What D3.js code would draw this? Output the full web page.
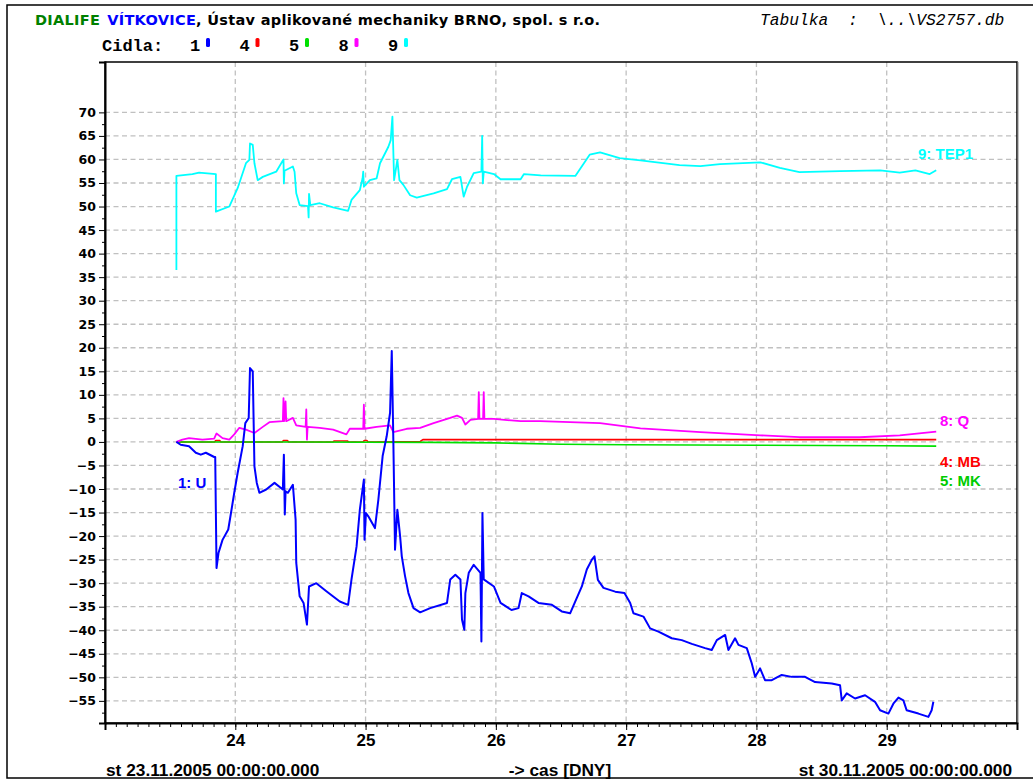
<!DOCTYPE html>
<meta charset="utf-8">
<style>
body { margin: 0; background: #fff; }
svg { display: block; }
.lbl { font-family: "DejaVu Sans", sans-serif; font-weight: bold; }
.lbn { font-family: "Liberation Sans", Arial, sans-serif; font-weight: bold; }
.mono { font-family: "Liberation Mono", "Courier New", monospace; white-space: pre; }
</style>
<svg width="1033" height="780"></svg>
<script src="https://d3js.org/d3.v7.min.js"></script>
<script>

// sensor 1 (U), blue
var s1 = [[23.548,0],[23.581,-0.6],[23.645,-0.9],[23.697,-2.3],[23.735,-2.7],[23.774,-2.3],[23.838,-3.2],[23.846,-3.2],
  [23.856,-26.8],[23.871,-23.6],[23.902,-20.8],[23.946,-18.6],[23.967,-15.1],[23.992,-10.8],[24.018,-6.6],[24.057,-0.9],
  [24.077,4.0],[24.103,5.1],[24.113,15.7],[24.134,15.0],[24.147,-5.2],[24.165,-8.7],[24.185,-10.8],[24.237,-10.1],
  [24.301,-8.7],[24.365,-10.1],[24.373,-2.7],[24.380,-15.4],[24.386,-10.5],[24.404,-10.8],[24.442,-9.1],[24.463,-16.5],
  [24.468,-25.7],[24.494,-32.8],[24.524,-34.2],[24.550,-38.8],[24.566,-30.7],[24.622,-30.0],[24.699,-31.7],[24.802,-33.9],
  [24.866,-34.6],[24.892,-29.2],[24.931,-22.2],[24.956,-14.4],[24.987,-8.0],[24.992,-20.8],[25.003,-15.1],[25.021,-15.8],
  [25.072,-18.3],[25.098,-12.3],[25.131,-3.0],[25.162,1.2],[25.188,6.2],[25.201,19.3],[25.213,0.5],[25.226,-22.9],
  [25.244,-14.4],[25.265,-20.0],[25.278,-24.3],[25.303,-28.5],[25.329,-32.1],[25.368,-35.3],[25.419,-36.2],[25.496,-35.3],
  [25.625,-34.2],[25.650,-29.2],[25.689,-28.2],[25.728,-29.2],[25.740,-37.7],[25.758,-39.9],[25.766,-32.1],[25.792,-27.8],
  [25.830,-26.1],[25.882,-27.8],[25.889,-42.4],[25.897,-15.1],[25.907,-29.2],[25.985,-30.7],[26.036,-34.2],[26.120,-35.7],
  [26.174,-35.3],[26.199,-32.1],[26.251,-32.8],[26.327,-34.2],[26.430,-34.6],[26.506,-36.0],[26.570,-36.4],[26.609,-33.9],
  [26.660,-30.7],[26.698,-27.1],[26.737,-25.0],[26.757,-24.3],[26.783,-29.3],[26.826,-31.0],[26.916,-31.8],[26.987,-32.1],
  [27.031,-34.2],[27.056,-36.4],[27.133,-37.1],[27.184,-39.6],[27.248,-40.3],[27.350,-41.7],[27.427,-42.1],[27.504,-42.9],
  [27.606,-43.8],[27.657,-44.2],[27.696,-42.1],[27.760,-41.0],[27.785,-44.2],[27.836,-41.7],[27.862,-43.1],[27.926,-43.8],
  [27.964,-47.0],[27.990,-49.9],[28.028,-48.1],[28.066,-50.6],[28.118,-50.6],[28.194,-49.5],[28.271,-49.9],[28.373,-49.9],
  [28.450,-51.0],[28.578,-51.3],[28.642,-51.7],[28.655,-54.9],[28.693,-53.4],[28.757,-54.5],[28.834,-53.8],[28.910,-55.2],
  [28.949,-57.0],[29.013,-57.7],[29.051,-55.6],[29.090,-54.3],[29.128,-54.9],[29.153,-57.0],[29.243,-57.7],[29.320,-58.4],
  [29.345,-57.0],[29.358,-55.2]];

// sensor 4 (MB), red
var s4 = [[23.548,0],[23.84,0],[23.85,0.3],[23.88,0.3],[23.89,0],[24.36,0],[24.37,0.3],[24.40,0.3],[24.41,0],
  [24.75,0],[24.76,0.2],[24.86,0.2],[24.87,0],[24.98,0],[24.99,0.3],[25.01,0.3],[25.02,0],[25.42,0.1],[25.44,0.5],
  [26.0,0.5],[27.0,0.5],[28.0,0.5],[29.0,0.5],[29.38,0.5]];

// sensor 5 (MK), green
var s5 = [[23.548,0],[24.5,0],[25.5,-0.1],[26.0,-0.2],[26.5,-0.5],[27.0,-0.6],[28.0,-0.7],[29.0,-0.8],[29.38,-0.9]];

// sensor 8 (Q), magenta
var s8 = [[23.548,0],[23.594,0.5],[23.645,0.8],[23.748,0.5],[23.838,0.7],[23.856,1.8],[23.902,0.8],[23.954,0.5],
  [23.992,1.6],[24.031,3.0],[24.082,2.6],[24.147,1.9],[24.211,3.2],[24.262,4.2],[24.365,4.4],[24.370,9.3],[24.375,4.4],
  [24.386,8.6],[24.391,4.4],[24.442,5.1],[24.468,3.5],[24.540,3.2],[24.545,6.9],[24.550,0.5],[24.555,3.2],[24.648,3.0],
  [24.751,2.6],[24.853,1.6],[24.879,2.8],[24.982,2.8],[24.987,7.9],[24.992,2.8],[25.085,3.2],[25.188,3.5],[25.213,2.1],
  [25.316,2.8],[25.419,3.0],[25.522,4.0],[25.650,5.1],[25.702,5.6],[25.740,5.1],[25.766,3.7],[25.805,4.7],[25.864,4.9],
  [25.869,10.6],[25.874,4.9],[25.902,4.9],[25.907,10.6],[25.912,4.9],[25.985,4.9],[26.190,4.4],[26.34,4.4],[26.80,4.0],
  [27.11,2.9],[27.57,2.1],[28.03,1.4],[28.33,1.0],[28.79,1.0],[29.10,1.4],[29.38,2.2]];

// sensor 9 (TEP1), cyan
var s9 = [[23.548,36.5],[23.548,56.5],[23.671,56.9],[23.722,57.2],[23.851,56.9],[23.851,48.9],[23.954,50.0],[24.018,53.9],
  [24.082,59.2],[24.108,59.9],[24.113,63.4],[24.134,63.1],[24.147,59.2],[24.172,55.6],[24.211,56.3],[24.314,57.4],
  [24.370,60.0],[24.373,54.9],[24.378,57.6],[24.442,58.5],[24.455,57.4],[24.468,52.8],[24.494,50.3],[24.558,50.1],
  [24.563,47.7],[24.566,52.7],[24.576,50.3],[24.648,50.7],[24.751,49.8],[24.866,49.1],[24.892,51.4],[24.956,53.5],
  [24.977,56.0],[24.982,57.4],[24.987,54.2],[25.033,55.6],[25.085,56.0],[25.111,59.2],[25.175,62.7],[25.193,64.1],
  [25.206,69.1],[25.219,55.6],[25.244,59.9],[25.260,55.6],[25.290,54.6],[25.342,52.4],[25.393,51.9],[25.522,52.8],
  [25.625,53.7],[25.663,55.8],[25.728,56.3],[25.753,52.1],[25.779,54.2],[25.830,57.1],[25.889,57.4],[25.895,65.0],
  [25.900,54.9],[25.907,57.4],[25.985,56.9],[26.036,55.8],[26.190,55.8],[26.216,56.9],[26.344,56.6],[26.61,56.5],
  [26.72,61.0],[26.80,61.5],[26.95,60.3],[27.11,59.8],[27.41,58.8],[27.57,58.6],[27.72,59.0],[28.03,59.4],[28.18,58.2],
  [28.33,57.3],[28.64,57.5],[28.95,57.7],[29.10,57.2],[29.22,57.7],[29.33,56.9],[29.38,57.7]];

var sensorIds = ["1", "4", "5", "8", "9"];
var sensorColors = ["#0000ff", "#ff0000", "#00e000", "#ff00ff", "#00ffff"];
var sensorNames = ["1: U", "4: MB", "5: MK", "8: Q", "9: TEP1"];
var yTicks = d3.range(-55, 71, 5);
var xTicks = [24, 25, 26, 27, 28, 29];

var svg = d3.select("svg");
var x = d3.scaleLinear().domain([23, 30]).range([105, 1017]);
var y = d3.scaleLinear().domain([-59.7, 80.7]).range([723, 62]);

// outer frame
svg.append("rect").attr("x", 7).attr("y", 5).attr("width", 1040).attr("height", 773)
  .attr("fill", "none").attr("stroke", "#000").attr("stroke-width", 1.5);

// header
var title = svg.append("text").attr("class", "lbl").attr("x", 35).attr("y", 25).attr("font-size", 14.5)
  .attr("letter-spacing", 0.3);
title.append("tspan").attr("fill", "#008000").text("DIALIFE");
title.append("tspan").attr("fill", "#0000ff").attr("dx", 7).text("VÍTKOVICE");
title.append("tspan").attr("fill", "#000").text(", Ústav aplikované mechaniky BRNO, spol. s r.o.");

svg.append("text").attr("class", "mono").attr("x", 760).attr("y", 25).attr("font-size", 16.3)
  .attr("font-style", "italic").text("Tabulka  :  \\..\\VS2757.db");

svg.append("text").attr("class", "mono").attr("x", 102).attr("y", 51).attr("font-size", 17)
  .attr("font-weight", "bold").text("Cidla:");

var leg = svg.selectAll(".leg").data(sensorIds).enter().append("g").attr("class", "leg")
  .attr("transform", function(d, i) { return "translate(" + (190 + i * 49.5) + ",0)"; });
leg.append("text").attr("class", "mono").attr("y", 51).attr("font-size", 17).attr("font-weight", "bold")
  .text(function(d) { return d; });
leg.append("rect").attr("x", 16).attr("y", 38).attr("width", 4).attr("height", 9).attr("rx", 1.5)
  .attr("fill", function(d, i) { return sensorColors[i]; });

// grid
var grid = svg.append("g").attr("stroke", "#c0c0c0").attr("stroke-width", 1.3).attr("stroke-dasharray", "5,3.5");
grid.selectAll(".gy").data(yTicks).enter().append("line")
  .attr("x1", x(23)).attr("x2", x(30)).attr("y1", function(d) { return y(d); }).attr("y2", function(d) { return y(d); });
grid.selectAll(".gx").data(xTicks).enter().append("line")
  .attr("y1", y.range()[1]).attr("y2", y.range()[0]).attr("x1", function(d) { return x(d); }).attr("x2", function(d) { return x(d); });

// series
var line = d3.line().x(function(d) { return x(d[0]); }).y(function(d) { return y(d[1]); });
var series = [s1, s4, s5, s8, s9];
var widths = [2, 1.6, 1.6, 1.8, 1.8];
var drawOrder = [1, 2, 3, 4, 0];
drawOrder.forEach(function(i) {
  svg.append("path").datum(series[i]).attr("d", line).attr("fill", "none")
    .attr("stroke", sensorColors[i]).attr("stroke-width", widths[i]).attr("stroke-linejoin", "round");
});

// series labels
var labelPos = [[178, 488], [940, 467], [940, 486], [940, 426], [918, 159]];
svg.selectAll(".slbl").data(sensorNames).enter().append("text").attr("class", "lbn")
  .attr("font-size", 15).attr("x", function(d, i) { return labelPos[i][0]; }).attr("y", function(d, i) { return labelPos[i][1]; })
  .attr("fill", function(d, i) { return i === 2 ? "#00cc00" : sensorColors[i]; })
  .text(function(d) { return d; });

// plot frame
svg.append("rect").attr("x", 105).attr("y", 62).attr("width", 912).attr("height", 661)
  .attr("fill", "none").attr("stroke", "#000").attr("stroke-width", 1.5);
svg.append("line").attr("x1", 1018).attr("x2", 1018).attr("y1", 62).attr("y2", 724).attr("stroke", "#888").attr("stroke-width", 1);

// axes
var yAxis = d3.axisLeft(y).tickValues(yTicks).tickSize(6).tickPadding(3).tickFormat(d3.format("d"));
var gy = svg.append("g").attr("transform", "translate(105,0)").call(yAxis);
gy.select(".domain").attr("stroke-width", 2);
gy.selectAll("text").attr("class", "lbl").attr("font-size", 12.5).attr("font-family", null).attr("fill", "#000");
var yMinor = d3.axisLeft(y).tickValues(d3.range(-57.5, 70, 5)).tickSize(3).tickFormat("");
svg.append("g").attr("transform", "translate(105,0)").call(yMinor).select(".domain").remove();

var xAxis = d3.axisBottom(x).tickValues(xTicks).tickSize(7).tickPadding(4).tickFormat(d3.format("d"));
var gx = svg.append("g").attr("transform", "translate(0,723)").call(xAxis);
gx.select(".domain").attr("stroke-width", 2);
gx.selectAll("text").attr("class", "lbn").attr("font-size", 17).attr("font-family", null).attr("fill", "#000");
var xMinor = d3.axisBottom(x).tickValues(d3.range(23 + 1 / 12, 30, 1 / 12)).tickSize(4).tickFormat("");
svg.append("g").attr("transform", "translate(0,723)").call(xMinor).select(".domain").remove();

// footer
var foot = [["st 23.11.2005 00:00:00.000", 106, "start"], ["-> cas [DNY]", 560, "middle"], ["st 30.11.2005 00:00:00.000", 1012, "end"]];
svg.selectAll(".foot").data(foot).enter().append("text").attr("class", "lbn").attr("font-size", 17.3)
  .attr("x", function(d) { return d[1]; }).attr("y", 776).attr("text-anchor", function(d) { return d[2]; })
  .text(function(d) { return d[0]; });

</script>
